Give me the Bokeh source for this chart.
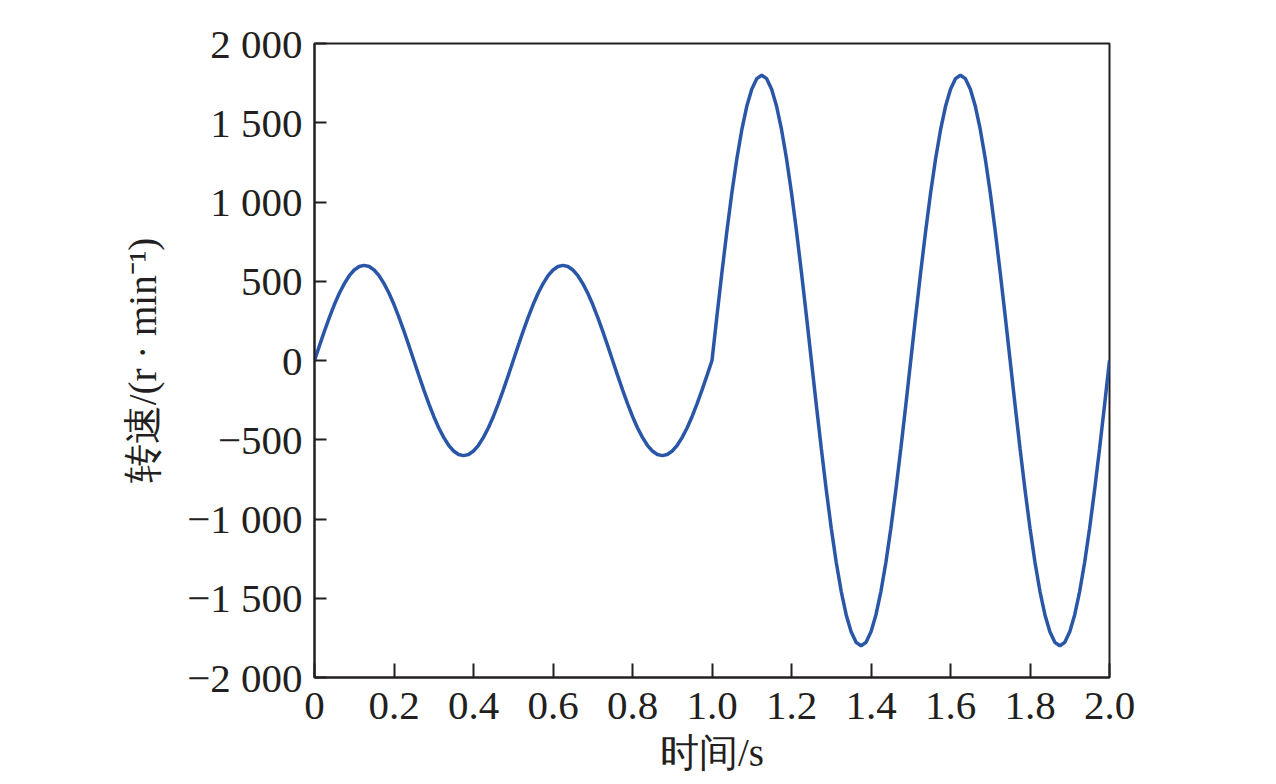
from bokeh.plotting import figure
from bokeh.models import FixedTicker, NumeralTickFormatter, Range1d
from bokeh.embed import file_html
from bokeh.resources import INLINE

# time grid (s), sampled every 0.0125 s
time_s = [i * 0.0125 for i in range(161)]

# speed (r/min)
speed = [
    0, 94, 185, 272, 353, 424, 485, 535, 571, 593, 600, 593, 571, 535, 485, 424, 353, 272, 185, 94,
    0, -94, -185, -272, -353, -424, -485, -535, -571, -593, -600, -593, -571, -535, -485, -424, -353, -272, -185, -94,
    0, 94, 185, 272, 353, 424, 485, 535, 571, 593, 600, 593, 571, 535, 485, 424, 353, 272, 185, 94,
    0, -94, -185, -272, -353, -424, -485, -535, -571, -593, -600, -593, -571, -535, -485, -424, -353, -272, -185, -94,
    0,
    282, 556, 817, 1058, 1273, 1456, 1604, 1712, 1778, 1800, 1778, 1712, 1604, 1456, 1273, 1058, 817, 556, 282,
    0, -282, -556, -817, -1058, -1273, -1456, -1604, -1712, -1778, -1800, -1778, -1712, -1604, -1456, -1273, -1058, -817, -556, -282,
    0, 282, 556, 817, 1058, 1273, 1456, 1604, 1712, 1778, 1800, 1778, 1712, 1604, 1456, 1273, 1058, 817, 556, 282,
    0, -282, -556, -817, -1058, -1273, -1456, -1604, -1712, -1778, -1800, -1778, -1712, -1604, -1456, -1273, -1058, -817, -556, -282,
    0,
]

x_ticks = [0, 0.2, 0.4, 0.6, 0.8, 1.0, 1.2, 1.4, 1.6, 1.8, 2.0]
y_ticks = [-2000, -1500, -1000, -500, 0, 500, 1000, 1500, 2000]
y_tick_labels = ["\u22122 000", "\u22121 500", "\u22121 000", "\u2212500", "0", "500", "1 000", "1 500", "2 000"]

x_label = "时间/s"
y_label = "转速/(r · min\u207b\u00b9)"

INK = "#231f20"
FONT = "Liberation Serif"

p = figure(width=1268, height=776, output_backend="svg", toolbar_location=None,
           x_range=Range1d(0, 2.0), y_range=Range1d(-2000, 2000))
p.min_border_left = 314
p.min_border_top = 43
p.min_border_right = 159
p.min_border_bottom = 97
p.background_fill_color = "white"
p.border_fill_color = "white"
p.outline_line_color = INK
p.outline_line_width = 2
p.xgrid.visible = False
p.ygrid.visible = False

p.line(time_s, speed, line_color="#2a56a8", line_width=3.5)

for ax in (p.xaxis[0], p.yaxis[0]):
    ax.axis_line_color = INK
    ax.axis_line_width = 2
    ax.major_tick_line_color = INK
    ax.major_tick_line_width = 2
    ax.major_tick_out = 0
    ax.minor_tick_out = 0
    ax.minor_tick_in = 0
    ax.major_label_text_font = FONT
    ax.major_label_text_font_size = "41px"
    ax.major_label_text_color = INK
    ax.axis_label_text_font = FONT
    ax.axis_label_text_font_size = "39px"
    ax.axis_label_text_font_style = "normal"
    ax.axis_label_text_color = INK

xa = p.xaxis[0]
xa.ticker = FixedTicker(ticks=x_ticks)
xa.formatter = NumeralTickFormatter(format="0.0")
xa.major_label_overrides = {0: "0"}
xa.major_tick_in = 14
xa.major_label_standoff = 15
xa.axis_label = x_label
xa.axis_label_standoff = 9

ya = p.yaxis[0]
ya.ticker = FixedTicker(ticks=y_ticks)
ya.major_label_overrides = {t: l for t, l in zip(y_ticks, y_tick_labels)}
ya.major_tick_in = 12
ya.major_label_standoff = 12
ya.axis_label = y_label
ya.axis_label_standoff = 20

open("out.html", "w").write(file_html(p, INLINE))
